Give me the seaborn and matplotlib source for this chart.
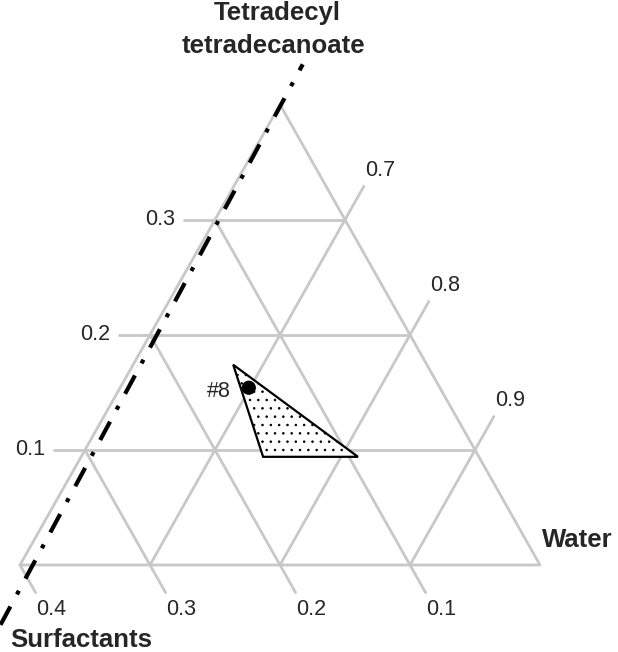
import numpy as np
import pandas as pd
import matplotlib
matplotlib.use("Agg")
import matplotlib.pyplot as plt
import seaborn as sns

# ---------------- data ----------------
t_ticks = [0.1, 0.2, 0.3]            # Tetradecyl tetradecanoate (left labels)
s_ticks = [0.4, 0.3, 0.2, 0.1]       # Surfactants (bottom labels)
w_ticks = [0.7, 0.8, 0.9]            # Water (right labels)

region_T = [0.174, 0.094, 0.094]     # shaded region vertices
region_W = [0.677, 0.740, 0.813]

point_T = [0.154]                    # formulation #8
point_W = [0.699]
point_lab = ["#8"]

boundary_T = [-0.052, 0.435]         # dash-dot boundary line
boundary_W = [0.611, 0.600]

# ---------------- helpers ----------------
R3 = np.sqrt(3) / 2


def tern(T, W):
    T = np.asarray(T, float)
    W = np.asarray(W, float)
    return W + T / 2, T * R3


sns.set_theme(style="white")
plt.rcParams["font.family"] = ["Liberation Sans", "DejaVu Sans"]
plt.rcParams["hatch.linewidth"] = 0.6

fig = plt.figure(figsize=(6.18, 6.52), dpi=100)
ax = fig.add_axes([0, 0, 1, 1])
ax.set_xlim(0.58462, 1.06)
ax.set_ylim(-0.06546, 0.42513)
ax.axis("off")

GRAY = "#c8c8c8"
LBL = 15.5

rows = []
sid = 0


def add_seg(T, W):
    global sid
    x, y = tern(T, W)
    for xi, yi in zip(x, y):
        rows.append((sid, xi, yi))
    sid += 1


# triangle edges
add_seg([0, 0, 0.4, 0], [0.6, 1.0, 0.6, 0.6])
for t in t_ticks:
    add_seg([t, t], [0.6, 1 - t])
for s in s_ticks[1:]:
    add_seg([0, 0.4 - s], [1 - s, 0.6])
for w in w_ticks:
    add_seg([0, 1 - w], [w, w])
# tick marks
for t in t_ticks:
    add_seg([t, t], [0.6, 0.6 - 0.0238])
for s in s_ticks:
    add_seg([0, -0.024], [1 - s, 1 - s + 0.024])
for w in w_ticks:
    add_seg([1 - w, 1 - w + 0.029], [w, w])

grid = pd.DataFrame(rows, columns=["seg", "x", "y"])
sns.lineplot(data=grid, x="x", y="y", units="seg", estimator=None, sort=False,
             color=GRAY, lw=2.0, ax=ax, legend=False, zorder=1)

# shaded region
rx, ry = tern(region_T, region_W)
ax.fill(rx, ry, facecolor="white", edgecolor="black", hatch="..", lw=1.6, zorder=3)

# point #8
px, py = tern(point_T, point_W)
sns.scatterplot(x=px, y=py, s=105, color="black", edgecolor="none", ax=ax, zorder=4)
for xi, yi, lab in zip(px, py, point_lab):
    ax.annotate(lab, (xi, yi), xytext=(-30, -4), textcoords="offset pixels",
                ha="center", va="center", fontsize=LBL, zorder=5)

# boundary dash-dot line
bx, by = tern(boundary_T, boundary_W)
sns.lineplot(x=bx, y=by, sort=False, color="black", lw=3.0,
             linestyle=(0, (5, 3.3, 1, 3.3)), ax=ax, zorder=6)

# tick labels
for t in t_ticks:
    x, y = tern(t, 0.6)
    ax.annotate(f"{t:.1f}", (x, y), xytext=(-55, 0), textcoords="offset pixels",
                ha="center", va="center", fontsize=LBL)
for s in s_ticks:
    x, y = tern(0, 1 - s)
    ax.annotate(f"{s:.1f}", (x, y), xytext=(31, -44), textcoords="offset pixels",
                ha="center", va="center", fontsize=LBL)
for w in w_ticks:
    x, y = tern(1 - w, w)
    ax.annotate(f"{w:.1f}", (x, y), xytext=(35, 49), textcoords="offset pixels",
                ha="center", va="center", fontsize=LBL)

# axis titles
W_PX, H_PX = 618, 652
bold = dict(fontsize=18.5, fontweight="bold")
fig.text(277 / W_PX, 1 - 20 / H_PX, "Tetradecyl", ha="center", va="baseline", **bold)
fig.text(273 / W_PX, 1 - 53 / H_PX, "tetradecanoate", ha="center", va="baseline", **bold)
fig.text(542 / W_PX, 1 - 547 / H_PX, "Water", ha="left", va="baseline", **bold)
fig.text(10 / W_PX, 1 - 647 / H_PX, "Surfactants", ha="left", va="baseline", **bold)

fig.savefig("out.png", dpi=100)
